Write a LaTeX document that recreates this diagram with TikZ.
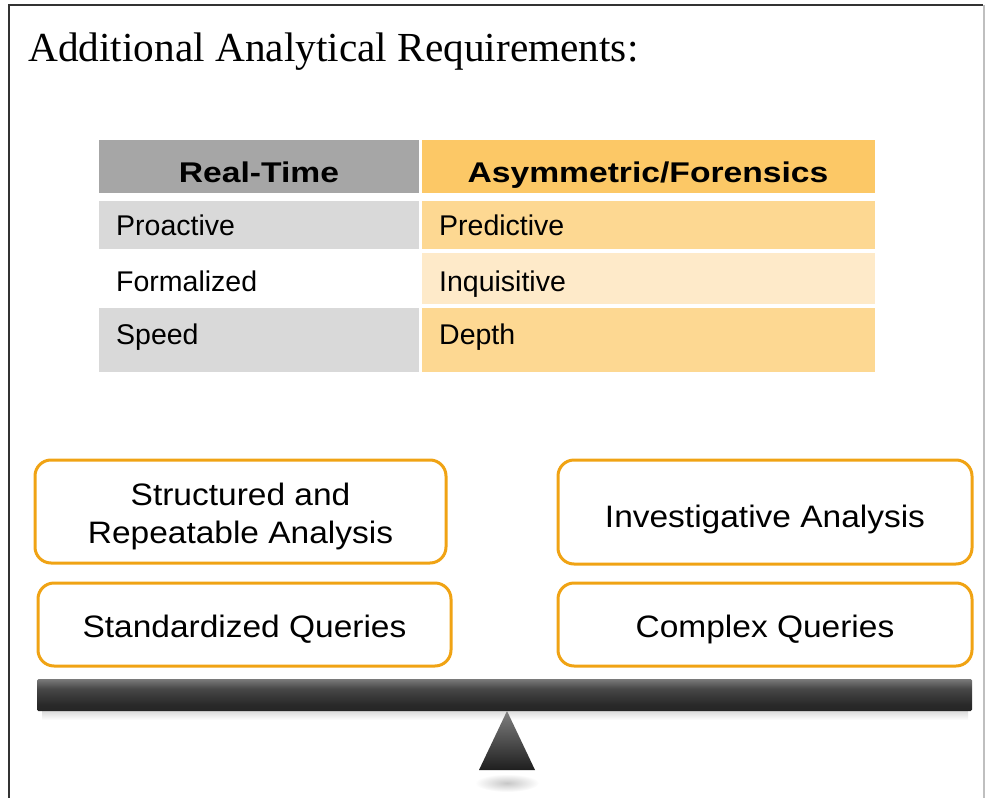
\documentclass[tikz,border=0pt]{standalone}
\usepackage{fontspec}
\setmainfont{Liberation Serif}
\newfontfamily\cellfont{Liberation Sans}
\newfontfamily\headfont{Liberation Sans}[FakeStretch=1.18]
\newfontfamily\boxfont{Liberation Sans}[FakeStretch=1.08]

\definecolor{headgray}{RGB}{166,166,166}
\definecolor{headorange}{RGB}{252,200,102}
\definecolor{rowgray}{RGB}{217,217,217}
\definecolor{roworange}{RGB}{253,216,146}
\definecolor{rowpale}{RGB}{254,234,201}
\definecolor{rimorange}{RGB}{240,163,20}

% dark bar: light rim on top, almost black underneath (stops listed bottom to top)
\pgfdeclareverticalshading{beamshade}{100bp}{
  color(0bp)=(black!88); color(35bp)=(black!84); color(60bp)=(black!72);
  color(78bp)=(black!48); color(90bp)=(black!18); color(100bp)=(black!8)}

\tikzset{
  celltext/.style={anchor=base west, inner sep=0pt, font=\cellfont\fontsize{28.5}{30}\selectfont},
  headtext/.style={anchor=base, inner sep=0pt, font=\headfont\bfseries\fontsize{28.5}{30}\selectfont},
  panel/.style={draw=rimorange, line width=3pt, rounded corners=16pt, fill=white,
    inner sep=0pt, align=center, text depth=0pt, font=\boxfont\fontsize{31}{38}\selectfont}
}

\begin{document}
\begin{tikzpicture}[x=1pt,y=-1pt]
\useasboundingbox (0,0) rectangle (986,798);

% page frame
\draw[black!80, line width=1.6pt] (9,798) -- (9,5) -- (983,5);
\draw[black!25, line width=1.6pt] (984,5) -- (984,798);

% title
\node[anchor=base west, inner sep=0pt, font=\fontsize{41.3}{44}\selectfont] (title) at (28,61)
  {Additional Analytical Requirements:};

% table: header row
\fill[headgray]   (99,140) rectangle (419,193);
\fill[headorange] (422,140) rectangle (875,193);
% table: body rows
\fill[rowgray]    (99,201) rectangle (419,249);
\fill[roworange]  (422,201) rectangle (875,249);
\fill[rowpale]    (422,253) rectangle (875,304);
\fill[rowgray]    (99,308) rectangle (419,372);
\fill[roworange]  (422,308) rectangle (875,372);

\node[headtext] (hrt) at (259,182) {Real-Time};
\node[headtext] (haf) at (648,182) {Asymmetric/Forensics};

\node[celltext] (c11) at (116,235) {Proactive};
\node[celltext] (c12) at (439,235) {Predictive};
\node[celltext] (c21) at (116,291) {Formalized};
\node[celltext] (c22) at (439,291) {Inquisitive};
\node[celltext] (c31) at (116,344) {Speed};
\node[celltext] (c32) at (439,344) {Depth};

% rounded panels resting on the beam
\node[panel, text height=63pt, minimum width=411pt, minimum height=103pt] (sra) at (240.5,511.5)
  {Structured and\\Repeatable Analysis};
\node[panel, text height=25pt, minimum width=413pt, minimum height=83pt] (sq) at (244.5,624.5)
  {Standardized Queries};
\node[panel, text height=30pt, minimum width=414pt, minimum height=104pt] (ia) at (765,512)
  {Investigative Analysis};
\node[panel, text height=25pt, minimum width=414pt, minimum height=83pt] (cq) at (765,624.5)
  {Complex Queries};

% beam shadow and beam
\shade[top color=black!14, bottom color=white] (42,711) rectangle (968,720);
\shade[shading=beamshade, rounded corners=1.5pt] (37,679) rectangle (972,711);

% fulcrum shadow and fulcrum
\shade[inner color=black!22, outer color=white] (507,783) ellipse (32 and 9);
\coordinate (apex) at (507,711);
\coordinate (bl) at (479,770);
\coordinate (br) at (535,770);
\shade[top color=black!50, bottom color=black!88] (apex) -- (br) -- (bl) -- cycle;
\end{tikzpicture}
\end{document}
